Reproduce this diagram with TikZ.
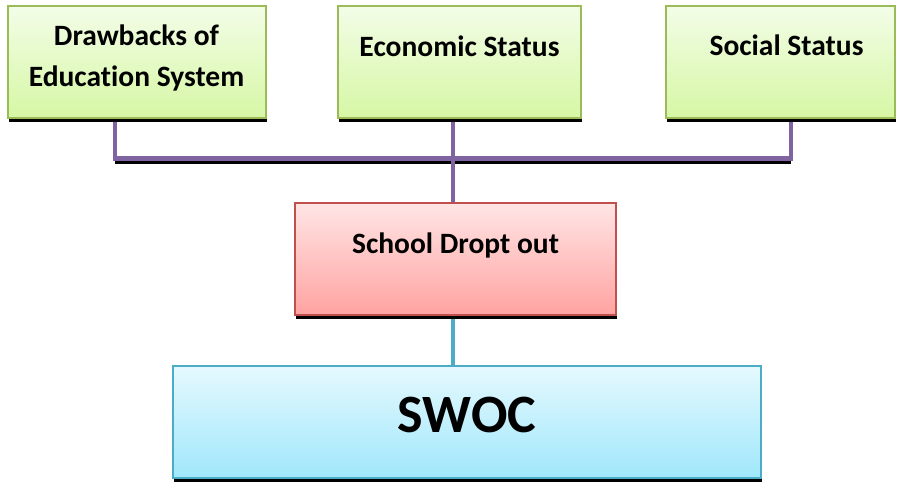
\documentclass[tikz,border=0pt]{standalone}
\usepackage{fontspec}
\setmainfont[Ligatures=NoCommon]{Carlito}
\usetikzlibrary{shadows,backgrounds}

\definecolor{greenline}{HTML}{9BBB59}
\definecolor{greentop}{HTML}{F3FDE8}
\definecolor{greenbot}{HTML}{D6F7A4}
\definecolor{redline}{HTML}{C0504D}
\definecolor{redtop}{HTML}{FFE5E5}
\definecolor{redbot}{HTML}{FFA3A1}
\definecolor{blueline}{HTML}{4BACC6}
\definecolor{bluetop}{HTML}{E5F9FE}
\definecolor{bluebot}{HTML}{A0E7FB}
\definecolor{purpleline}{HTML}{8064A2}

\tikzset{
  box/.style={draw, line width=1.5pt, inner sep=0pt, minimum height=112pt,
    drop shadow={shadow xshift=0.5pt, shadow yshift=-3.5pt, fill=black, opacity=1}},
  greenbox/.style={box, draw=greenline, top color=greentop, bottom color=greenbot},
  redbox/.style={box, draw=redline, top color=redtop, bottom color=redbot},
  bluebox/.style={box, draw=blueline, top color=bluetop, bottom color=bluebot},
  txt/.style={font=\bfseries\fontsize{29.5}{41}\selectfont, align=center, inner sep=0pt},
  bigtxt/.style={font=\bfseries\fontsize{54}{60}\selectfont, inner sep=0pt},
  link/.style={line width=4.5pt, draw=purpleline},
  linkshadow/.style={line width=4.5pt, draw=black},
  tealink/.style={line width=4.5pt, draw=blueline}
}

\begin{document}
\begin{tikzpicture}[x=1pt, y=-1pt]
    \useasboundingbox (0,0) rectangle (897,482);

    % Causes
    \node[greenbox, minimum width=258pt] (draw) at (137,62) {};
    \node[greenbox, minimum width=243pt] (eco) at (459.5,62) {};
    \node[greenbox, minimum width=229pt] (social) at (780.5,62) {};

    % Result
    \node[redbox, minimum width=321pt] (sdo) at (455.5,259) {};
    \node[bluebox, minimum width=588pt] (swoc) at (467,422) {};

    % Labels
    \node[txt, anchor=base] (drawtxt) at (136.5,86) {Drawbacks of\\Education System};
    \node[txt, anchor=base] (ecotxt) at (459.5,56) {Economic Status};
    \node[txt, anchor=base] (soctxt) at (786.5,55) {Social Status};
    \node[txt, anchor=base] (sdotxt) at (455.5,253) {School Dropt out};
    \node[bigtxt, anchor=base] (swoctxt) at (467,432) {SWOC};

    % Connectors
    \coordinate (barl) at (115,158.5);
    \coordinate (barr) at (791,158.5);
    \begin{scope}[on background layer]
    \draw[linkshadow] ([yshift=-3pt]barl) -- ([yshift=-3pt]barr);
    \draw[link] ([xshift=-22pt]draw.south) -- (barl) -- (barr)
        -- ([xshift=10.5pt]social.south);
    \draw[link] ([xshift=-6.5pt]eco.south) -- ([xshift=-2.5pt]sdo.north);
    \draw[tealink] ([xshift=-2.5pt]sdo.south) -- ([xshift=-14pt]swoc.north);
    \end{scope}
\end{tikzpicture}
\end{document}
